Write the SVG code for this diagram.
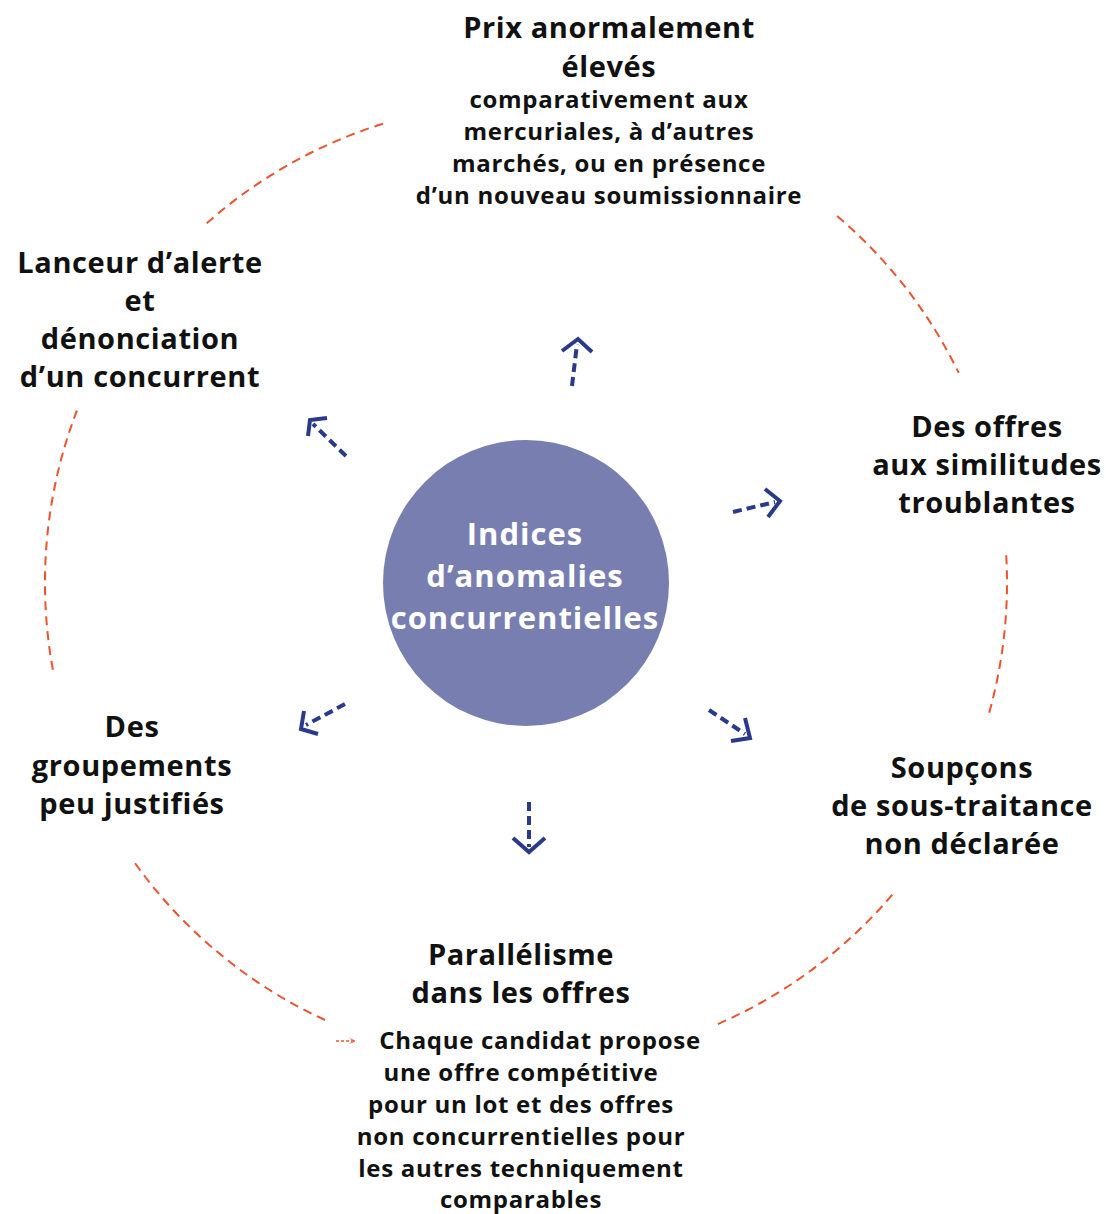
<svg xmlns="http://www.w3.org/2000/svg" width="1106" height="1214" viewBox="0 0 1106 1214">
<defs>
<style>
.t{font-family:"Open Sans","Liberation Sans",sans-serif;font-weight:700;fill:#111;text-anchor:middle}
.h{font-size:29px;letter-spacing:0.6px}
.s{font-size:24px;letter-spacing:0.7px}
.c{font-size:31px;letter-spacing:1px;fill:#fff}
.arc{fill:none;stroke:#E9552E;stroke-width:2;stroke-dasharray:9 6}
.ar{fill:none;stroke:#2A3A8A;stroke-width:4;stroke-dasharray:9 5}
.hd{fill:none;stroke:#2A3A8A;stroke-width:4;stroke-linejoin:miter}
</style>
<marker id="oh" viewBox="0 0 10 10" refX="9" refY="5" markerWidth="6" markerHeight="6" orient="auto" markerUnits="userSpaceOnUse">
<path d="M1,1 L9,5 L1,9" fill="none" stroke="#E9552E" stroke-width="1.5"/>
</marker>
</defs>
<rect width="1106" height="1214" fill="#fff"/>
<g id="connectors">
<path class="arc" d="M206.7,223.3 A481,481 0 0 1 385.4,123.0"/>
<path class="arc" d="M837.1,216.1 A481,481 0 0 1 958.7,372.9"/>
<path class="arc" d="M1006.2,555.3 A481,481 0 0 1 988.6,714.8"/>
<path class="arc" d="M892.3,894.7 A481,481 0 0 1 717.8,1024.1"/>
<path class="arc" d="M325.0,1020.0 A481,481 0 0 1 132.0,858.9"/>
<path class="arc" d="M52.9,669.8 A481,481 0 0 1 76.9,410.6"/>
<line x1="336" y1="1041" x2="355" y2="1041" stroke="#E9552E" stroke-width="1.6" stroke-dasharray="3 2" marker-end="url(#oh)"/>
<line class="ar" x1="572" y1="386" x2="577" y2="344"/>
<path class="hd" d="M562,351 L578,339 L592,352"/>
<line class="ar" x1="346" y1="456" x2="313" y2="424"/>
<path class="hd" d="M308,436 L310,420 L327,418"/>
<line class="ar" x1="733" y1="512" x2="775" y2="502"/>
<path class="hd" d="M765,489 L780,501 L768,517"/>
<line class="ar" x1="345" y1="704" x2="306" y2="725"/>
<path class="hd" d="M304,711 L301,729 L318,734"/>
<line class="ar" x1="709" y1="710" x2="745" y2="734"/>
<path class="hd" d="M745,718 L750,738 L731,741"/>
<line class="ar" x1="529" y1="802" x2="529" y2="847"/>
<path class="hd" d="M513,838 L529,852 L545,838"/>
</g>
<g id="center">
<circle cx="526" cy="583" r="143" fill="#787FB0"/>
<text class="t c" x="525" y="545">Indices</text>
<text class="t c" x="525" y="587">d’anomalies</text>
<text class="t c" x="525" y="629">concurrentielles</text>
</g>
<g id="prix">
<text class="t h" x="609" y="38">Prix anormalement</text>
<text class="t h" x="609" y="77">élevés</text>
<text class="t s" x="609" y="108">comparativement aux</text>
<text class="t s" x="609" y="140">mercuriales, à d’autres</text>
<text class="t s" x="609" y="172">marchés, ou en présence</text>
<text class="t s" x="609" y="204">d’un nouveau soumissionnaire</text>
</g>
<g id="lanceur">
<text class="t h" x="140" y="273">Lanceur d’alerte</text>
<text class="t h" x="140" y="311">et</text>
<text class="t h" x="140" y="349">dénonciation</text>
<text class="t h" x="140" y="387">d’un concurrent</text>
</g>
<g id="offres">
<text class="t h" x="987" y="437">Des offres</text>
<text class="t h" x="987" y="475">aux similitudes</text>
<text class="t h" x="987" y="513">troublantes</text>
</g>
<g id="groupements">
<text class="t h" x="132" y="737">Des</text>
<text class="t h" x="132" y="776">groupements</text>
<text class="t h" x="132" y="814">peu justifiés</text>
</g>
<g id="soustraitance">
<text class="t h" x="962" y="778">Soupçons</text>
<text class="t h" x="962" y="816">de sous-traitance</text>
<text class="t h" x="962" y="854">non déclarée</text>
</g>
<g id="parallelisme">
<text class="t h" x="521" y="965">Parallélisme</text>
<text class="t h" x="521" y="1003">dans les offres</text>
<text class="t s" x="540" y="1049">Chaque candidat propose</text>
<text class="t s" x="521" y="1081">une offre compétitive</text>
<text class="t s" x="521" y="1113">pour un lot et des offres</text>
<text class="t s" x="521" y="1145">non concurrentielles pour</text>
<text class="t s" x="521" y="1177">les autres techniquement</text>
<text class="t s" x="521" y="1208">comparables</text>
</g>
</svg>
